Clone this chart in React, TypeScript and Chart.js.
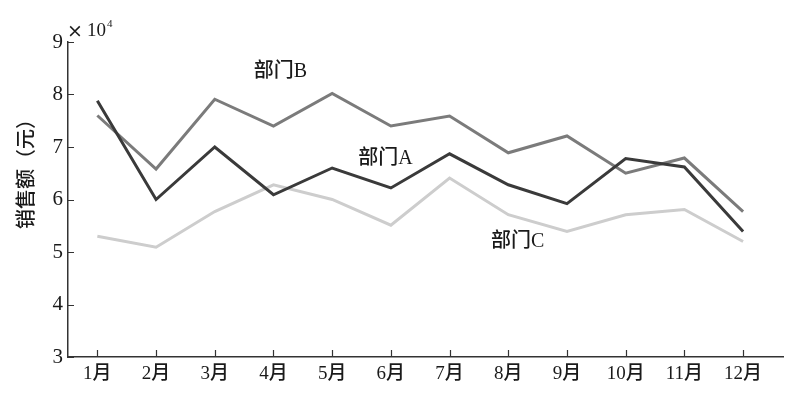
import React, { useEffect, useRef } from "react";
import { Chart, registerables } from "chart.js";

Chart.register(...registerables);

const months = ["1月", "2月", "3月", "4月", "5月", "6月", "7月", "8月", "9月", "10月", "11月", "12月"];
const deptA = [7.88, 6.0, 7.0, 6.09, 6.6, 6.22, 6.87, 6.28, 5.92, 6.78, 6.62, 5.39];
const deptB = [7.6, 6.58, 7.91, 7.4, 8.02, 7.4, 7.59, 6.89, 7.21, 6.5, 6.79, 5.77];
const deptC = [5.3, 5.09, 5.77, 6.28, 6.0, 5.51, 6.41, 5.71, 5.39, 5.71, 5.81, 5.2];
const yTicks = [3, 4, 5, 6, 7, 8, 9];
const yTitle = "销售额（元）";
const seriesLabels = [
  { text: "部门B", x: 4.12, y: 8.43 },
  { text: "部门A", x: 5.91, y: 6.78 },
  { text: "部门C", x: 8.16, y: 5.19 },
];

const FONT = '"Liberation Serif", "Noto Sans CJK SC", serif';

export default function App() {
  const ref = useRef<HTMLCanvasElement | null>(null);
  useEffect(() => {
    document.body.style.margin = "0";
    const canvas = ref.current!;
    const toPts = (arr: number[]) => arr.map((v, i) => ({ x: i + 1, y: v }));
    const overlay = {
      id: "overlay",
      afterDraw(chart: any) {
        const { ctx, chartArea, scales } = chart;
        const xs = scales.x;
        const ys = scales.y;
        ctx.save();
        ctx.strokeStyle = "#333";
        ctx.lineWidth = 1.2;
        ctx.beginPath();
        yTicks.forEach((v) => {
          const p = Math.round(ys.getPixelForValue(v)) + 0.5;
          ctx.moveTo(chartArea.left, p);
          ctx.lineTo(chartArea.left + 6, p);
        });
        months.forEach((_, i) => {
          const p = Math.round(xs.getPixelForValue(i + 1)) + 0.5;
          ctx.moveTo(p, chartArea.bottom);
          ctx.lineTo(p, chartArea.bottom - 7);
        });
        ctx.stroke();
        ctx.fillStyle = "#1a1a1a";
        ctx.font = `500 20px ${FONT}`;
        ctx.textAlign = "center";
        ctx.textBaseline = "middle";
        seriesLabels.forEach((l) => {
          ctx.fillText(l.text, xs.getPixelForValue(l.x), ys.getPixelForValue(l.y));
        });
        // y-axis title
        ctx.save();
        ctx.translate(28, 169);
        ctx.rotate(-Math.PI / 2);
        ctx.font = `500 20px ${FONT}`;
        ctx.fillText(yTitle, 0, 0);
        ctx.restore();
        ctx.textAlign = "left";
        ctx.textBaseline = "alphabetic";
        ctx.font = `19px "DejaVu Serif", serif`;
        ctx.fillText("×", chartArea.left - 1, 37);
        ctx.font = `19px ${FONT}`;
        ctx.fillText("10", chartArea.left + 19, 36);
        ctx.font = `11px ${FONT}`;
        ctx.fillText("4", chartArea.left + 39, 27);
        ctx.restore();
      },
    };
    const chart = new Chart(canvas, {
      type: "line",
      data: {
        datasets: [
          { label: "部门A", data: toPts(deptA), borderColor: "#3a3a3a", borderWidth: 3, pointRadius: 0, tension: 0 },
          { label: "部门B", data: toPts(deptB), borderColor: "#7b7b7b", borderWidth: 3, pointRadius: 0, tension: 0 },
          { label: "部门C", data: toPts(deptC), borderColor: "#cdcdcd", borderWidth: 3, pointRadius: 0, tension: 0 },
        ],
      },
      options: {
        animation: false,
        responsive: false,
        devicePixelRatio: 1,
        layout: { padding: { left: 8, top: 42, right: 6, bottom: 0 } },
        plugins: { legend: { display: false }, tooltip: { enabled: false } },
        scales: {
          x: {
            type: "linear",
            min: 0.5,
            max: 12.68,
            afterBuildTicks: (s: any) => {
              s.ticks = months.map((_, i) => ({ value: i + 1 }));
            },
            afterFit: (s: any) => {
              s.height = 43;
            },
            ticks: {
              autoSkip: false,
              maxRotation: 0,
              callback: (v: any) => months[Number(v) - 1] ?? "",
              color: "#1a1a1a",
              font: { family: FONT, size: 19, weight: "500" },
              padding: 6,
            },
            grid: { drawOnChartArea: false, drawTicks: false },
            border: { display: true, color: "#333", width: 1.5 },
          },
          y: {
            type: "linear",
            min: 3,
            max: 9,
            afterBuildTicks: (s: any) => {
              s.ticks = yTicks.map((v) => ({ value: v }));
            },
            afterFit: (s: any) => {
              s.width = 60;
            },
            ticks: {
              color: "#1a1a1a",
              font: { family: FONT, size: 21 },
              padding: 5,
            },
            grid: { drawOnChartArea: false, drawTicks: false },
            border: { display: true, color: "#333", width: 1.5 },
          },
        },
      },
      plugins: [overlay],
    });
    return () => chart.destroy();
  }, []);
  return <canvas ref={ref} width={789} height={400} style={{ display: "block" }} />;
}
